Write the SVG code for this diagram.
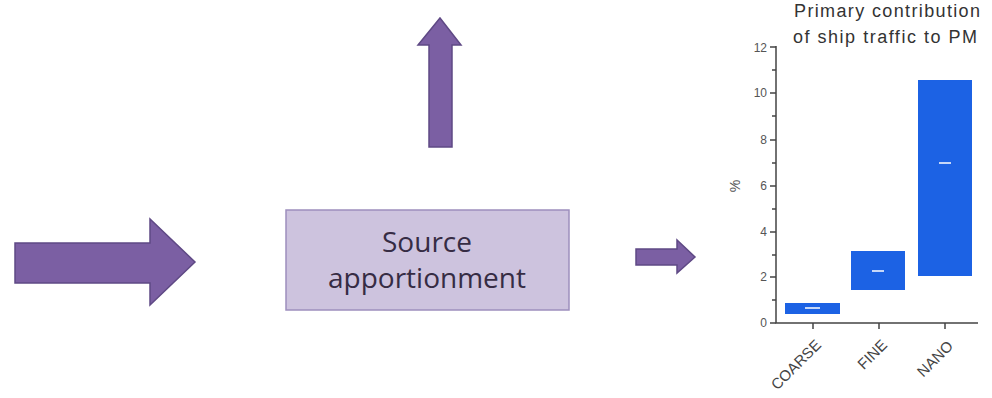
<svg xmlns="http://www.w3.org/2000/svg" width="992" height="398" viewBox="0 0 992 398">
<style>
.arrow{fill:#7b5fa3;stroke:#5f4985;stroke-width:1.5;stroke-linejoin:miter}
.box{fill:#cdc3de;stroke:#9d8fbd;stroke-width:1.5}
.boxt{font-family:"Open Sans",sans-serif;font-size:28px;fill:#362c44;text-anchor:middle}
.axis{stroke:#444;stroke-width:1.5;fill:none}
.tick{font-family:"Liberation Sans",Arial,sans-serif;font-size:12px;fill:#555;text-anchor:end}
.title{font-family:"Liberation Sans",Arial,sans-serif;font-size:18px;fill:#333;text-anchor:middle}
.xl{font-family:"Liberation Sans",Arial,sans-serif;font-size:15px;fill:#444;text-anchor:end}
.bar{fill:#1c62e4}
.med{stroke:#fff;stroke-width:1.5}
</style>
<g id="input-arrow">
<polygon class="arrow" points="15,243 150,243 150,219 195,262 150,305 150,283 15,283"/>
</g>
<g id="source-apportionment">
<rect class="box" x="286" y="210" width="283" height="100"/>
<text class="boxt" x="427" y="252">Source</text>
<text class="boxt" x="427" y="288">apportionment</text>
</g>
<g id="connectors">
<polygon id="up-arrow" class="arrow" points="429,147 429,45 418,45 440,18 461,45 452,45 452,147"/>
<polygon id="right-arrow" class="arrow" points="636,249 677,249 677,240 695,257 677,273 677,265 636,265"/>
</g>
<g id="chart">
<text class="title" x="887" y="17" textLength="186" lengthAdjust="spacing">Primary contribution</text>
<text class="title" x="885" y="43" textLength="184" lengthAdjust="spacing">of ship traffic to PM</text>
<rect class="bar" x="785" y="303" width="55" height="11"/>
<rect class="bar" x="851" y="251" width="54" height="39"/>
<rect class="bar" x="918" y="80" width="54" height="196"/>
<line class="med" x1="805" y1="308" x2="820" y2="308"/>
<line class="med" x1="872" y1="271" x2="884" y2="271"/>
<line class="med" x1="939" y1="163" x2="951" y2="163"/>
<path class="axis" d="M776,46 V323 H978"/>
<path class="axis" d="M770,47 H776 M772,70 H776 M770,93 H776 M772,116 H776 M770,140 H776 M772,163 H776 M770,186 H776 M772,209 H776 M770,232 H776 M772,255 H776 M770,277 H776 M772,300 H776 M770,323 H776 M813,323 V329 M879,323 V329 M945,323 V329"/>
<text class="tick" x="767" y="52">12</text>
<text class="tick" x="767" y="97">10</text>
<text class="tick" x="767" y="144">8</text>
<text class="tick" x="767" y="190">6</text>
<text class="tick" x="767" y="236">4</text>
<text class="tick" x="767" y="281">2</text>
<text class="tick" x="767" y="327">0</text>
<text class="tick" transform="translate(740,186) rotate(-90)" style="text-anchor:middle;font-size:14px">%</text>
<text class="xl" transform="translate(822,346) rotate(-45)">COARSE</text>
<text class="xl" transform="translate(888,346) rotate(-45)">FINE</text>
<text class="xl" transform="translate(954,347) rotate(-45)">NANO</text>
</g>
</svg>
